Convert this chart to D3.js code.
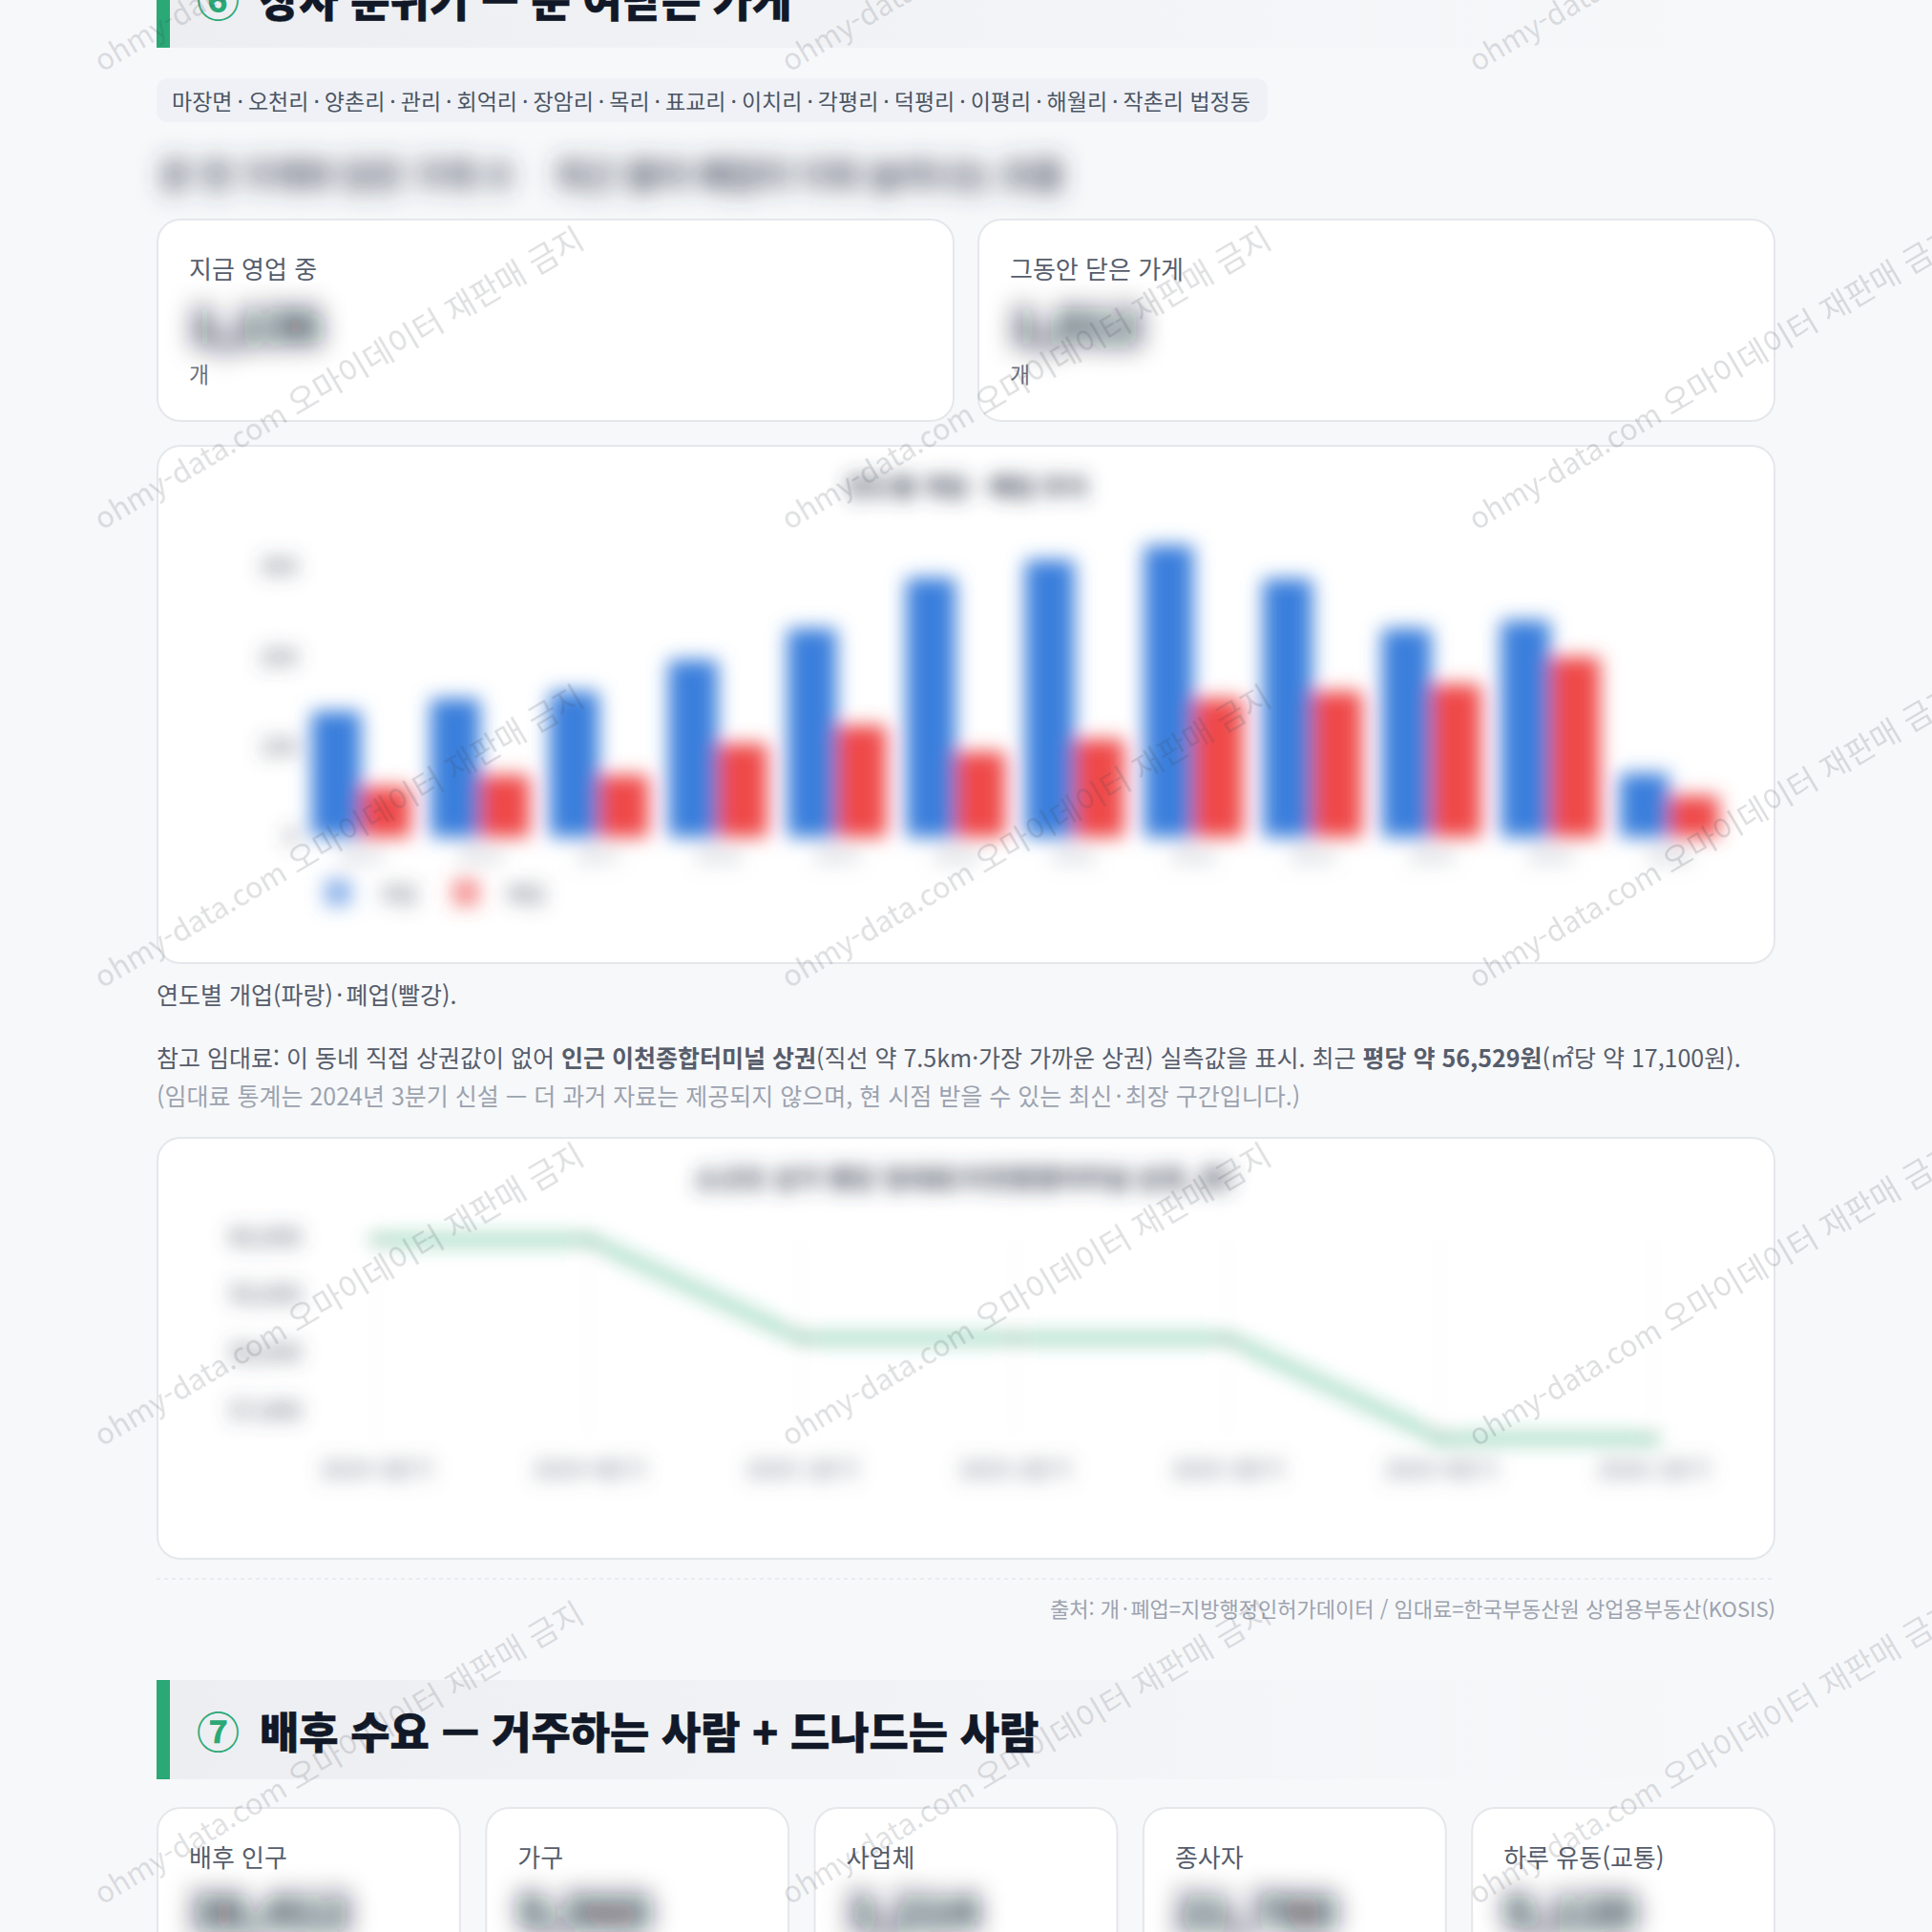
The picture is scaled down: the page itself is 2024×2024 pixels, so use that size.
<!DOCTYPE html>
<html lang="ko"><head><meta charset="utf-8">
<script src="https://cdnjs.cloudflare.com/ajax/libs/d3/7.8.5/d3.min.js"></script>
<style>
html,body{margin:0;padding:0;background:#f7f8fa;overflow:hidden}
svg{display:block}
text{font-family:"Noto Sans CJK KR","Noto Sans",sans-serif}
</style></head><body><div id="c"></div>
<script>
const years=["2015","2016","2017","2018","2019","2020","2021","2022","2023","2024","2025","2026"];
const opened=[140,154,162,197,232,288,308,324,287,232,241,71];
const closed=[56,69,69,104,124,95,109,154,162,170,200,46];
const barTicks=[0,100,200,300];
const seriesNames=["개업","폐업"];
const quarters=["2024 3분기","2024 4분기","2025 1분기","2025 2분기","2025 3분기","2025 4분기","2026 1분기"];
const rents=[59950,59950,58257,58257,58257,56529,56529];
const rentTicks=[57000,58000,59000,60000];
const chipText="마장면 · 오천리 · 양촌리 · 관리 · 회억리 · 장암리 · 목리 · 표교리 · 이치리 · 각평리 · 덕평리 · 이평리 · 해월리 · 작촌리 법정동";
const topCards=["지금 영업 중","그동안 닫은 가게"];
const topValues=["1,136","1,012"];
const bottomCards=["배후 인구","가구","사업체","종사자","하루 유동(교통)"];
const bottomValues=["38,412","9,560","3,214","21,780","9,120"];

const W=2024,H=2024;
const svg=d3.select("#c").append("svg").attr("width",W).attr("height",H);
const defs=svg.append("defs");
[["b10",10],["b13",13],["b14",14]].forEach(([id,s])=>{
  defs.append("filter").attr("id",id).attr("filterUnits","userSpaceOnUse")
    .attr("x",0).attr("y",0).attr("width",W).attr("height",H)
    .append("feGaussianBlur").attr("stdDeviation",s);
});
const lg=defs.append("linearGradient").attr("id","hd");
lg.append("stop").attr("offset","0").attr("stop-color","#edeef1");
lg.append("stop").attr("offset","1").attr("stop-color","#f7f8fa");

svg.append("rect").attr("width",W).attr("height",H).attr("fill","#f7f8fa");

function txt(x,y,s,size,fill,o={}){
  const t=svg.append("text").attr("x",x).attr("y",y).attr("dominant-baseline","central")
    .attr("font-size",size).attr("fill",fill).attr("font-weight",o.w||400)
    .attr("text-anchor",o.a||"start");
  dotted(t,s,o.gap==null?3.3:o.gap);
  return t;
}
// " · " separators are set tight, as in the reference
function dotted(t,s,gap){
  s.split(" · ").forEach((part,i)=>{
    if(i>0) t.append("tspan").attr("dx",gap).text("·");
    t.append("tspan").attr("dx",i>0?gap:null).text(part);
  });
}
function card(x,y,w,h){
  svg.append("rect").attr("x",x+1).attr("y",y+1).attr("width",w-2).attr("height",h-2)
    .attr("rx",24).attr("fill","#fff").attr("stroke","#e5e7eb").attr("stroke-width",2);
}
function header(yTop,num,title){
  svg.append("rect").attr("x",178).attr("y",yTop).attr("width",1612).attr("height",104).attr("fill","url(#hd)");
  svg.append("rect").attr("x",164).attr("y",yTop).attr("width",14).attr("height",104).attr("fill","#2aa876");
  txt(206,yTop+52,num,45,"#2aa876",{w:700});
  txt(272,yTop+52,title,44.9,"#111827",{w:900}).attr("stroke","#111827").attr("stroke-width",.5);
}
header(-54,"⑥","장사 분위기 — 문 여닫은 가게");

// chips
svg.append("rect").attr("x",164).attr("y",82).attr("width",1164).attr("height",46).attr("rx",12).attr("fill","#eff1f6");
txt(180,105,chipText,23,"#4b5563",{gap:5});

// blurred summary
const sumT=svg.append("text").attr("filter","url(#b13)").attr("y",181).attr("dominant-baseline","central")
  .attr("font-size",35).attr("font-weight",700).attr("fill","#374151");
sumT.append("tspan").attr("x",168).text("문 연 가게와 닫은 가게 수");
sumT.append("tspan").attr("x",582).text("최근 들어 폐업이 더욱 늘어나는 흐름");

// top stat cards
[[164,836],[1024,836]].forEach(([x,w],i)=>{
  card(x,229,w,213);
  txt(x+34,280,topCards[i],26,"#565d6b");
  svg.append("text").attr("x",x+34).attr("y",338).attr("dominant-baseline","central").attr("font-size",50).attr("font-weight",800)
    .attr("fill","#111827").attr("filter","url(#b14)").text(topValues[i]);
  txt(x+34,391,"개",23,"#6b7280");
});

// bar chart
card(164,466,1696,544);
const barG=svg.append("g").attr("filter","url(#b10)");
barG.append("text").attr("x",1013).attr("y",508).attr("text-anchor","middle").attr("dominant-baseline","central")
  .attr("font-size",26).attr("font-weight",700).attr("fill","#374151").text("연도별 개업 · 폐업 추이");
const x0=d3.scaleBand().domain(years).range([316,1811]).paddingInner(0.165).paddingOuter(0.0825);
const x1=d3.scaleBand().domain(seriesNames).range([0,x0.bandwidth()]);
const yBar=d3.scaleLinear().domain([0,300]).range([877,594]);
const barColors=d3.scaleOrdinal().domain(seriesNames).range(["#3b7fdc","#ef4848"]);
const fmtAxis=g=>{g.select(".domain").remove();g.selectAll("line").remove();g.selectAll("text").style("font-family",'"Noto Sans CJK KR"');};
barG.append("g").attr("transform","translate(312,0)")
  .call(d3.axisLeft(yBar).tickValues(barTicks).tickSize(0)).call(fmtAxis)
  .selectAll("text").attr("font-size",24).attr("fill","#4b5563").attr("x",0);
barG.append("g").attr("transform","translate(0,886)")
  .call(d3.axisBottom(x0).tickSize(0)).call(fmtAxis)
  .selectAll("text").attr("font-size",21).attr("fill","#9ca3af");
[opened,closed].forEach((vals,si)=>{
  barG.append("g").selectAll("rect").data(vals).join("rect")
    .attr("x",(d,i)=>x0(years[i])+x1(seriesNames[si]))
    .attr("width",x1.bandwidth()).attr("y",d=>yBar(d)).attr("height",d=>yBar(0)-yBar(d))
    .attr("rx",4).attr("fill",barColors(seriesNames[si]));
});
const legendX=d3.scalePoint().domain(seriesNames).range([354,488]);
seriesNames.forEach(n=>{
  barG.append("rect").attr("x",legendX(n)-14).attr("y",921).attr("width",28).attr("height",28)
    .attr("fill",barColors(n)).attr("opacity",.6);
  barG.append("text").attr("x",legendX(n)+63).attr("y",935).attr("text-anchor","middle").attr("dominant-baseline","central")
    .attr("font-size",22).attr("fill","#4b5563").text(n);
});

txt(164,1041,"연도별 개업(파랑) · 폐업(빨강).",25,"#565d6b");
const t=txt(164,1107,"",25,"#565d6b");
t.selectAll("*").remove();
[["참고 임대료: 이 동네 직접 상권값이 없어 ",400],["인근 이천종합터미널 상권",700],["(직선 약 7.5km·가장 가까운 상권) 실측값을 표시. 최근 ",400],["평당 약 56,529원",700],["(㎡당 약 17,100원).",400]]
  .forEach(([s,w])=>t.append("tspan").attr("font-weight",w).text(s));
txt(164,1147,"(임대료 통계는 2024년 3분기 신설 — 더 과거 자료는 제공되지 않으며, 현 시점 받을 수 있는 최신 · 최장 구간입니다.)",25,"#9ca3af");

// line chart
card(164,1191,1696,443);
const lineG=svg.append("g").attr("filter","url(#b10)");
lineG.append("text").attr("x",1010).attr("y",1233).attr("text-anchor","middle").attr("dominant-baseline","central")
  .attr("font-size",27).attr("font-weight",700).attr("fill","#374151").text("소규모 상가 평당 임대료(이천종합터미널 상권, 원)");
const xL=d3.scalePoint().domain(quarters).range([394,1732]);
const yL=d3.scaleLinear().domain([56529,60000]).range([1507,1296]);
lineG.append("g").selectAll("line").data(quarters).join("line")
  .attr("x1",d=>xL(d)).attr("x2",d=>xL(d)).attr("y1",1290).attr("y2",1510).attr("stroke","#eceef1").attr("stroke-width",1.5);
lineG.append("g").attr("transform","translate(316,0)")
  .call(d3.axisLeft(yL).tickValues(rentTicks).tickFormat(d3.format(",")).tickSize(0)).call(fmtAxis)
  .selectAll("text").attr("font-size",25).attr("fill","#4b5563").attr("x",0);
lineG.append("g").attr("transform","translate(0,1528)")
  .call(d3.axisBottom(xL).tickSize(0)).call(fmtAxis)
  .selectAll("text").attr("font-size",24).attr("fill","#6b7280");
const pts=quarters.map((q,i)=>[xL(q),yL(rents[i])]);
lineG.append("path").attr("d",d3.line()(pts)).attr("fill","none").attr("stroke","#2aa876").attr("stroke-width",5.5).attr("stroke-linecap","round").attr("stroke-linejoin","round");
lineG.append("g").selectAll("circle").data(pts).join("circle")
  .attr("cx",d=>d[0]).attr("cy",d=>d[1]).attr("r",5).attr("fill","#2aa876");

// footer
svg.append("line").attr("x1",164).attr("x2",1860).attr("y1",1654).attr("y2",1654).attr("stroke","#e5e7eb").attr("stroke-width",1.5).attr("stroke-dasharray","4 4");
txt(1860,1684,"출처: 개 · 폐업=지방행정인허가데이터 / 임대료=한국부동산원 상업용부동산(KOSIS)",22,"#9ca3af",{a:"end",gap:2.6});

header(1760,"⑦","배후 수요 — 거주하는 사람 + 드나드는 사람");

// bottom cards
const cardScale=d3.scaleBand().domain(bottomCards).range([164,1860]).paddingInner(0.074);
bottomCards.forEach((c,i)=>{
  const x=cardScale(c),w=cardScale.bandwidth();
  card(x,1893,w,300);
  txt(x+34,1944,c,26,"#565d6b");
  svg.append("text").attr("x",x+34).attr("y",2000).attr("dominant-baseline","central").attr("font-size",50).attr("font-weight",800)
    .attr("fill","#111827").attr("filter","url(#b14)").text(bottomValues[i]);
});

// watermark
const wm=svg.append("g").attr("pointer-events","none");
for(let row=-1;row<5;row++)for(let col=0;col<4;col++){
  const xx=107+col*720,yy=76+row*480;
  const w=wm.append("text").attr("transform",`translate(${xx},${yy}) rotate(-30.5)`)
    .attr("fill","#3c4150").attr("fill-opacity",.17);
  w.append("tspan").attr("font-size",30.8).text("ohmy-data.com ");
  w.append("tspan").attr("font-size",33).text("오마이데이터 재판매 금지");
}
</script></body></html>
